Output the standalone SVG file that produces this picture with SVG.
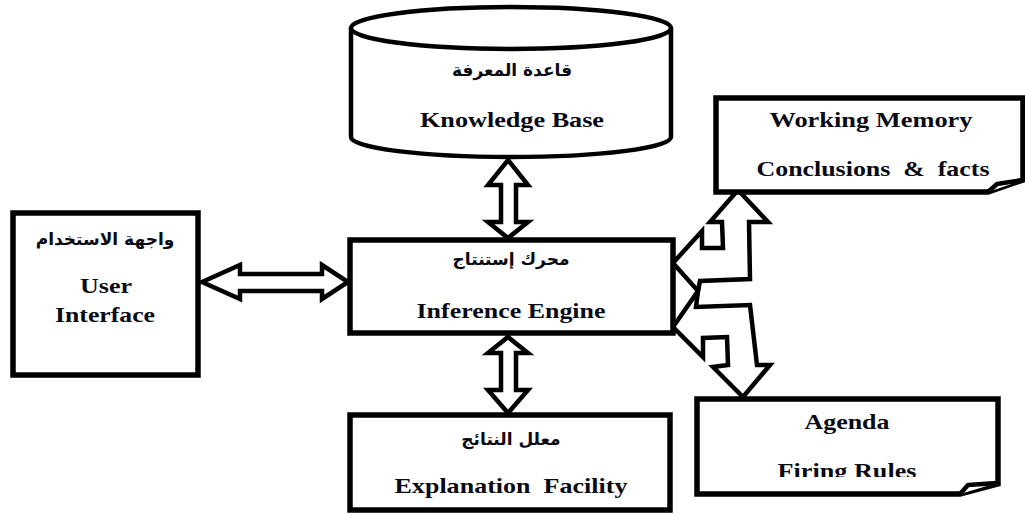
<svg xmlns="http://www.w3.org/2000/svg" width="1025" height="515" viewBox="0 0 1025 515">
  <defs>
    <style>
      .box { fill: #fff; stroke: #000; stroke-width: 5.5; stroke-linejoin: miter; }
      .thin { fill: #fff; stroke: #000; stroke-width: 4.5; stroke-linejoin: round; }
      .arrow { fill: #fff; stroke: #000; stroke-width: 4.5; stroke-linejoin: miter; stroke-miterlimit: 10; }
      .en { font-family: "Liberation Serif", "Times New Roman", serif; font-weight: bold; font-size: 22px; fill: #0a0a14; text-anchor: middle; }
      .ar { font-family: "DejaVu Sans", "Noto Sans", sans-serif; font-weight: bold; font-size: 17px; fill: #0a0a14; text-anchor: middle; }
    </style>
    <clipPath id="agendaClip">
      <rect x="700" y="402" width="295" height="75"/>
    </clipPath>
  </defs>
  <rect width="1025" height="515" fill="#fff"/>

  <!-- connectors -->
  <g id="connectors">
    <!-- Knowledge Base <-> Inference Engine -->
    <polygon class="arrow" points="508,160 528,185 516,185 516,222 528,222 508,238 488,222 501,222 501,185 488,185"/>
    <!-- Inference Engine <-> Explanation Facility -->
    <polygon class="arrow" points="508,337 528,353 516,353 516,390 528,390 508,413 488,390 501,390 501,353 488,353"/>
    <!-- User Interface <-> Inference Engine -->
    <polygon class="arrow" points="202,282 240,265 240,274 322,274 322,265 348,282 322,299 322,291 240,291 240,299"/>
    <!-- Inference Engine <-> Working Memory -->
    <polygon class="arrow" points="738,190 768,222 749,222 750,279 700,281 698,291 673,263 702,231 702,248 723,248 722,222 710,222"/>
    <!-- Inference Engine <-> Agenda -->
    <polygon class="arrow" points="673,327 698,291 696,307 750,305 757,365 770,365 743,397 713,367 728,365 727,337 703,338 703,357"/>
  </g>

  <!-- Knowledge Base (cylinder) -->
  <g id="knowledge-base">
    <path class="thin" d="M351,28 L351,137 A160,20 0 0 0 671,137 L671,28 Z"/>
    <ellipse class="thin" cx="511" cy="28" rx="160" ry="21"/>
    <text class="ar" x="512" y="76">قاعدة المعرفة</text>
    <text class="en" x="512" y="127" textLength="184" lengthAdjust="spacingAndGlyphs">Knowledge Base</text>
  </g>

  <!-- User Interface -->
  <g id="user-interface">
    <rect class="box" x="13" y="213" width="185" height="162"/>
    <text class="ar" x="105" y="245">واجهة الاستخدام</text>
    <text class="en" x="106" y="293" textLength="52" lengthAdjust="spacingAndGlyphs">User</text>
    <text class="en" x="105" y="322" textLength="100" lengthAdjust="spacingAndGlyphs">Interface</text>
  </g>

  <!-- Inference Engine -->
  <g id="inference-engine">
    <rect class="box" x="350" y="240" width="323" height="93"/>
    <text class="ar" x="511" y="265">محرك إستنتاج</text>
    <text class="en" x="511" y="318" textLength="189" lengthAdjust="spacingAndGlyphs">Inference Engine</text>
  </g>

  <!-- Explanation Facility -->
  <g id="explanation-facility">
    <rect class="box" x="350" y="415" width="320" height="95"/>
    <text class="ar" x="511" y="445">معلل النتائج</text>
    <text class="en" x="511" y="493" textLength="233" lengthAdjust="spacingAndGlyphs" xml:space="preserve">Explanation  Facility</text>
  </g>

  <!-- Working Memory (page with curled corner) -->
  <g id="working-memory">
    <path class="box" d="M716,98 H1023 V180 L988,192 H716 Z"/>
    <path class="thin" stroke-width="3.5" d="M988,192 L997,184 L1023,180"/>
    <text class="en" x="871" y="127" textLength="203" lengthAdjust="spacingAndGlyphs">Working Memory</text>
    <text class="en" x="873" y="176" textLength="233" lengthAdjust="spacingAndGlyphs" xml:space="preserve">Conclusions  &amp;  facts</text>
  </g>

  <!-- Agenda (page with curled corner) -->
  <g id="agenda">
    <path class="box" d="M697,399 H998 V484 L960,494 H697 Z"/>
    <path class="thin" stroke-width="3.5" d="M960,494 L968,485 L997,483"/>
    <text class="en" x="847" y="429" textLength="85" lengthAdjust="spacingAndGlyphs">Agenda</text>
    <text class="en" x="847" y="478" textLength="139" lengthAdjust="spacingAndGlyphs" clip-path="url(#agendaClip)">Firing Rules</text>
  </g>
</svg>
